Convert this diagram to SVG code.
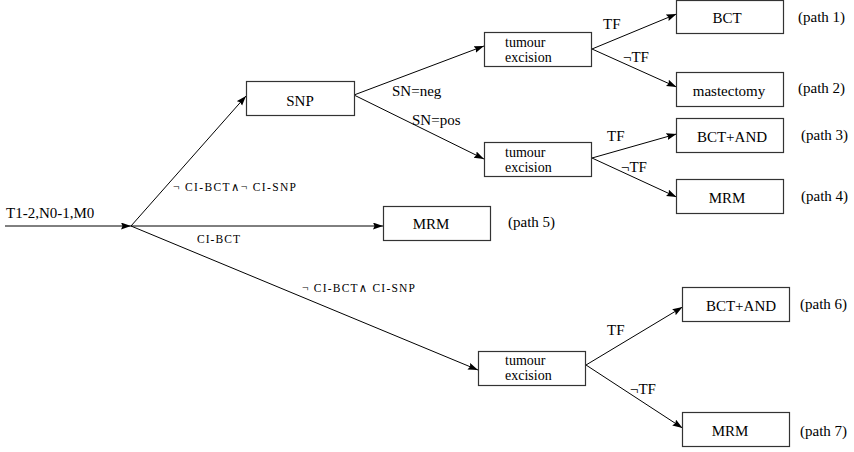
<svg xmlns="http://www.w3.org/2000/svg" width="854" height="452" viewBox="0 0 854 452">
  <style>
    .lbl { font-size: 15px; }
    .te { font-size: 14px; }
    .sc { font-size: 11.5px; }
    .box { fill: #fff; stroke: #333; stroke-width: 1.2; }
    .edge { fill: none; stroke: #000; stroke-width: 1; marker-end: url(#arrow); }
    .mid { text-anchor: middle; }
  </style>
  <defs>
    <marker id="arrow" markerUnits="userSpaceOnUse" markerWidth="11" markerHeight="8" refX="10" refY="3.5" orient="auto">
      <path d="M0,0 L10,3.5 L0,7 L1.5,3.5 z" fill="#000"/>
    </marker>
  </defs>

  <!-- connectors -->
  <g id="connectors">
    <line class="edge" x1="5" y1="226" x2="131" y2="226"/>
    <line class="edge" x1="131" y1="226" x2="246" y2="96"/>
    <line class="edge" x1="131" y1="226" x2="383" y2="226"/>
    <line class="edge" x1="131" y1="226" x2="478" y2="370"/>
    <line class="edge" x1="354" y1="95" x2="484" y2="46"/>
    <line class="edge" x1="354" y1="95" x2="484" y2="159"/>
    <line class="edge" x1="592" y1="49" x2="676.5" y2="14"/>
    <line class="edge" x1="592" y1="49" x2="676.5" y2="87"/>
    <line class="edge" x1="592" y1="158" x2="676.5" y2="134"/>
    <line class="edge" x1="592" y1="158" x2="676.5" y2="197"/>
    <line class="edge" x1="586" y1="365" x2="682.5" y2="307"/>
    <line class="edge" x1="586" y1="365" x2="682.5" y2="428"/>
  </g>

  <g font-family="'Liberation Serif', 'DejaVu Serif', 'Times New Roman', serif" fill="#000">
    <!-- edge labels -->
    <g id="edge-labels">
      <text class="lbl" x="6" y="218">T1-2,N0-1,M0</text>
      <text class="sc" x="173" y="191" textLength="123" lengthAdjust="spacing">¬ CI-BCT∧¬ CI-SNP</text>
      <text class="sc" x="197" y="243" textLength="43" lengthAdjust="spacing">CI-BCT</text>
      <text class="sc" x="302" y="292" textLength="113" lengthAdjust="spacing">¬ CI-BCT∧ CI-SNP</text>
      <text class="lbl" x="392" y="96">SN=neg</text>
      <text class="lbl" x="412" y="125">SN=pos</text>
      <text class="lbl" x="603" y="29">TF</text>
      <text class="lbl" x="623" y="62">¬TF</text>
      <text class="lbl" x="607" y="141">TF</text>
      <text class="lbl" x="621" y="172">¬TF</text>
      <text class="lbl" x="607" y="335">TF</text>
      <text class="lbl" x="630" y="394">¬TF</text>
    </g>

    <g id="snp">
      <rect class="box" x="246.5" y="81.5" width="108" height="34"/>
      <text class="lbl mid" x="300" y="106">SNP</text>
    </g>

    <g id="excision-neg">
      <rect class="box" x="484.5" y="32.5" width="107" height="34"/>
      <text class="te" x="505" y="46.5">tumour</text>
      <text class="te" x="505" y="61.5">excision</text>
    </g>

    <g id="excision-pos">
      <rect class="box" x="484.5" y="142.5" width="107" height="34"/>
      <text class="te" x="505" y="156.5">tumour</text>
      <text class="te" x="505" y="171.5">excision</text>
    </g>

    <g id="excision-snp">
      <rect class="box" x="478.5" y="351.5" width="107" height="34"/>
      <text class="te" x="505" y="365">tumour</text>
      <text class="te" x="505" y="380">excision</text>
    </g>

    <g id="path1">
      <rect class="box" x="676.5" y="0.5" width="107" height="33"/>
      <text class="lbl mid" x="727" y="23">BCT</text>
      <text class="lbl" x="798" y="22">(path 1)</text>
    </g>

    <g id="path2">
      <rect class="box" x="676.5" y="72.5" width="107" height="34"/>
      <text class="lbl mid" x="729" y="96">mastectomy</text>
      <text class="lbl" x="798" y="93">(path 2)</text>
    </g>

    <g id="path3">
      <rect class="box" x="676.5" y="118.5" width="107" height="34"/>
      <text class="lbl mid" x="732" y="142">BCT+AND</text>
      <text class="lbl" x="801" y="140">(path 3)</text>
    </g>

    <g id="path4">
      <rect class="box" x="676.5" y="179.5" width="107" height="34"/>
      <text class="lbl mid" x="727" y="203">MRM</text>
      <text class="lbl" x="801" y="201">(path 4)</text>
    </g>

    <g id="path5">
      <rect class="box" x="383.5" y="206.5" width="107" height="34"/>
      <text class="lbl mid" x="431" y="229">MRM</text>
      <text class="lbl" x="508" y="227">(path 5)</text>
    </g>

    <g id="path6">
      <rect class="box" x="682.5" y="287.5" width="107" height="34"/>
      <text class="lbl mid" x="741" y="311">BCT+AND</text>
      <text class="lbl" x="800" y="309">(path 6)</text>
    </g>

    <g id="path7">
      <rect class="box" x="682.5" y="412.5" width="107" height="34"/>
      <text class="lbl mid" x="730" y="436">MRM</text>
      <text class="lbl" x="800" y="436">(path 7)</text>
    </g>
  </g>
</svg>
